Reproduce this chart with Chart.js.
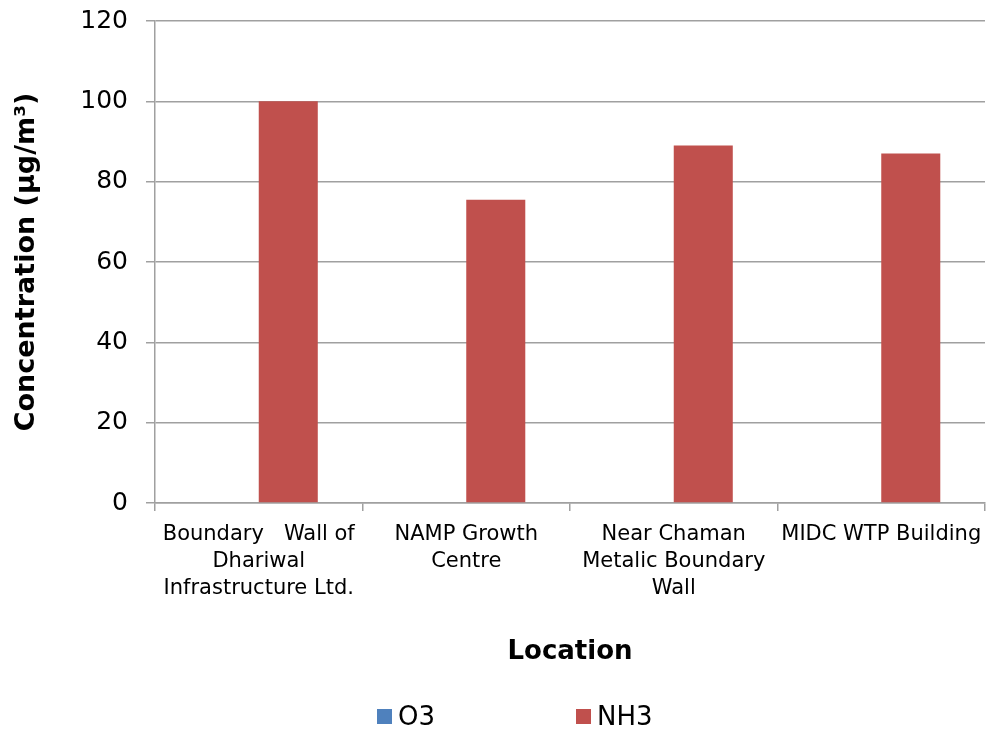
<!DOCTYPE html>
<html>
<head>
<meta charset="utf-8">
<script src="https://cdn.jsdelivr.net/npm/chart.js@4.4.1/dist/chart.umd.min.js"></script>
<style>
  html, body { margin: 0; padding: 0; background: #fff; }
  #wrap { position: relative; width: 989px; height: 731px; }
  #legend { position: absolute; left: 377px; top: 700px; height: 32px; display: flex; font-family: "DejaVu Sans", Verdana, sans-serif; font-size: 26px; color: #000; }
  .li { width: 199px; display: flex; align-items: center; white-space: nowrap; }
  .sw { width: 15px; height: 15px; margin-right: 6px; flex: none; }
</style>
</head>
<body>
<div id="wrap">
  <canvas id="c" width="989" height="731"></canvas>
  <div id="legend"></div>
</div>
<script>
const categories = [
  ["Boundary   Wall of", "Dhariwal", "Infrastructure Ltd."],
  ["NAMP Growth", "Centre"],
  ["Near Chaman", "Metalic Boundary", "Wall"],
  "MIDC WTP Building"
];
const seriesNames = ["O3", "NH3"];
const o3Values = [0, 0, 0, 0];
const nh3Values = [100, 75.5, 89.0, 87.0];
const yTicks = [0, 20, 40, 60, 80, 100, 120];
const colors = ["#4F81BD", "#C0504D"];

const FONT = '"DejaVu Sans", Verdana, sans-serif';
const GRID = '#a0a0a0';

const htmlLegend = {
  id: 'htmlLegend',
  afterUpdate(chart) {
    const el = document.getElementById('legend');
    el.innerHTML = '';
    chart.data.datasets.forEach(ds => {
      const item = document.createElement('div');
      item.className = 'li';
      const sw = document.createElement('span');
      sw.className = 'sw';
      sw.style.background = ds.backgroundColor;
      const tx = document.createElement('span');
      tx.textContent = ds.label;
      item.appendChild(sw);
      item.appendChild(tx);
      el.appendChild(item);
    });
  }
};

new Chart(document.getElementById('c'), {
  type: 'bar',
  data: {
    labels: categories,
    datasets: [
      { label: seriesNames[0], data: o3Values, backgroundColor: colors[0] },
      { label: seriesNames[1], data: nh3Values, backgroundColor: colors[1] }
    ]
  },
  options: {
    responsive: false,
    animation: false,
    events: [],
    layout: { padding: { left: 0, right: 4, top: 21, bottom: 59 } },
    datasets: { bar: { categoryPercentage: 0.569, barPercentage: 1.0 } },
    plugins: {
      legend: { display: false },
      tooltip: { enabled: false }
    },
    scales: {
      x: {
        offset: true,
        grid: { display: true, drawOnChartArea: false, drawTicks: true, tickLength: 8, color: GRID, lineWidth: 1.5, offset: true },
        border: { display: true, color: GRID, width: 1.5 },
        ticks: { color: '#000', font: { family: FONT, size: 21, lineHeight: 1.286 }, padding: 10, maxRotation: 0, minRotation: 0, autoSkip: false },
        title: { display: true, text: 'Location', color: '#000', font: { family: FONT, size: 26, weight: 'bold' }, padding: { top: 0, bottom: 4 } },
        afterFit(s) { s.height = 169; s.paddingLeft = 0; s.paddingRight = 0; }
      },
      y: {
        min: yTicks[0],
        max: yTicks[yTicks.length - 1],
        afterBuildTicks(s) { s.ticks = yTicks.map(v => ({ value: v })); },
        grid: { color: GRID, lineWidth: 1.5, drawTicks: true, tickLength: 9 },
        border: { display: true, color: GRID, width: 1.5 },
        ticks: { color: '#000', font: { family: FONT, size: 25 }, padding: 18 },
        title: { display: true, text: 'Concentration (µg/m³)', color: '#000', font: { family: FONT, size: 27, weight: 'bold' }, padding: { top: 11, bottom: 0 } },
        afterFit(s) { s.width = 155; s.paddingTop = 0; s.paddingBottom = 0; }
      }
    }
  },
  plugins: [htmlLegend]
});
</script>
</body>
</html>
